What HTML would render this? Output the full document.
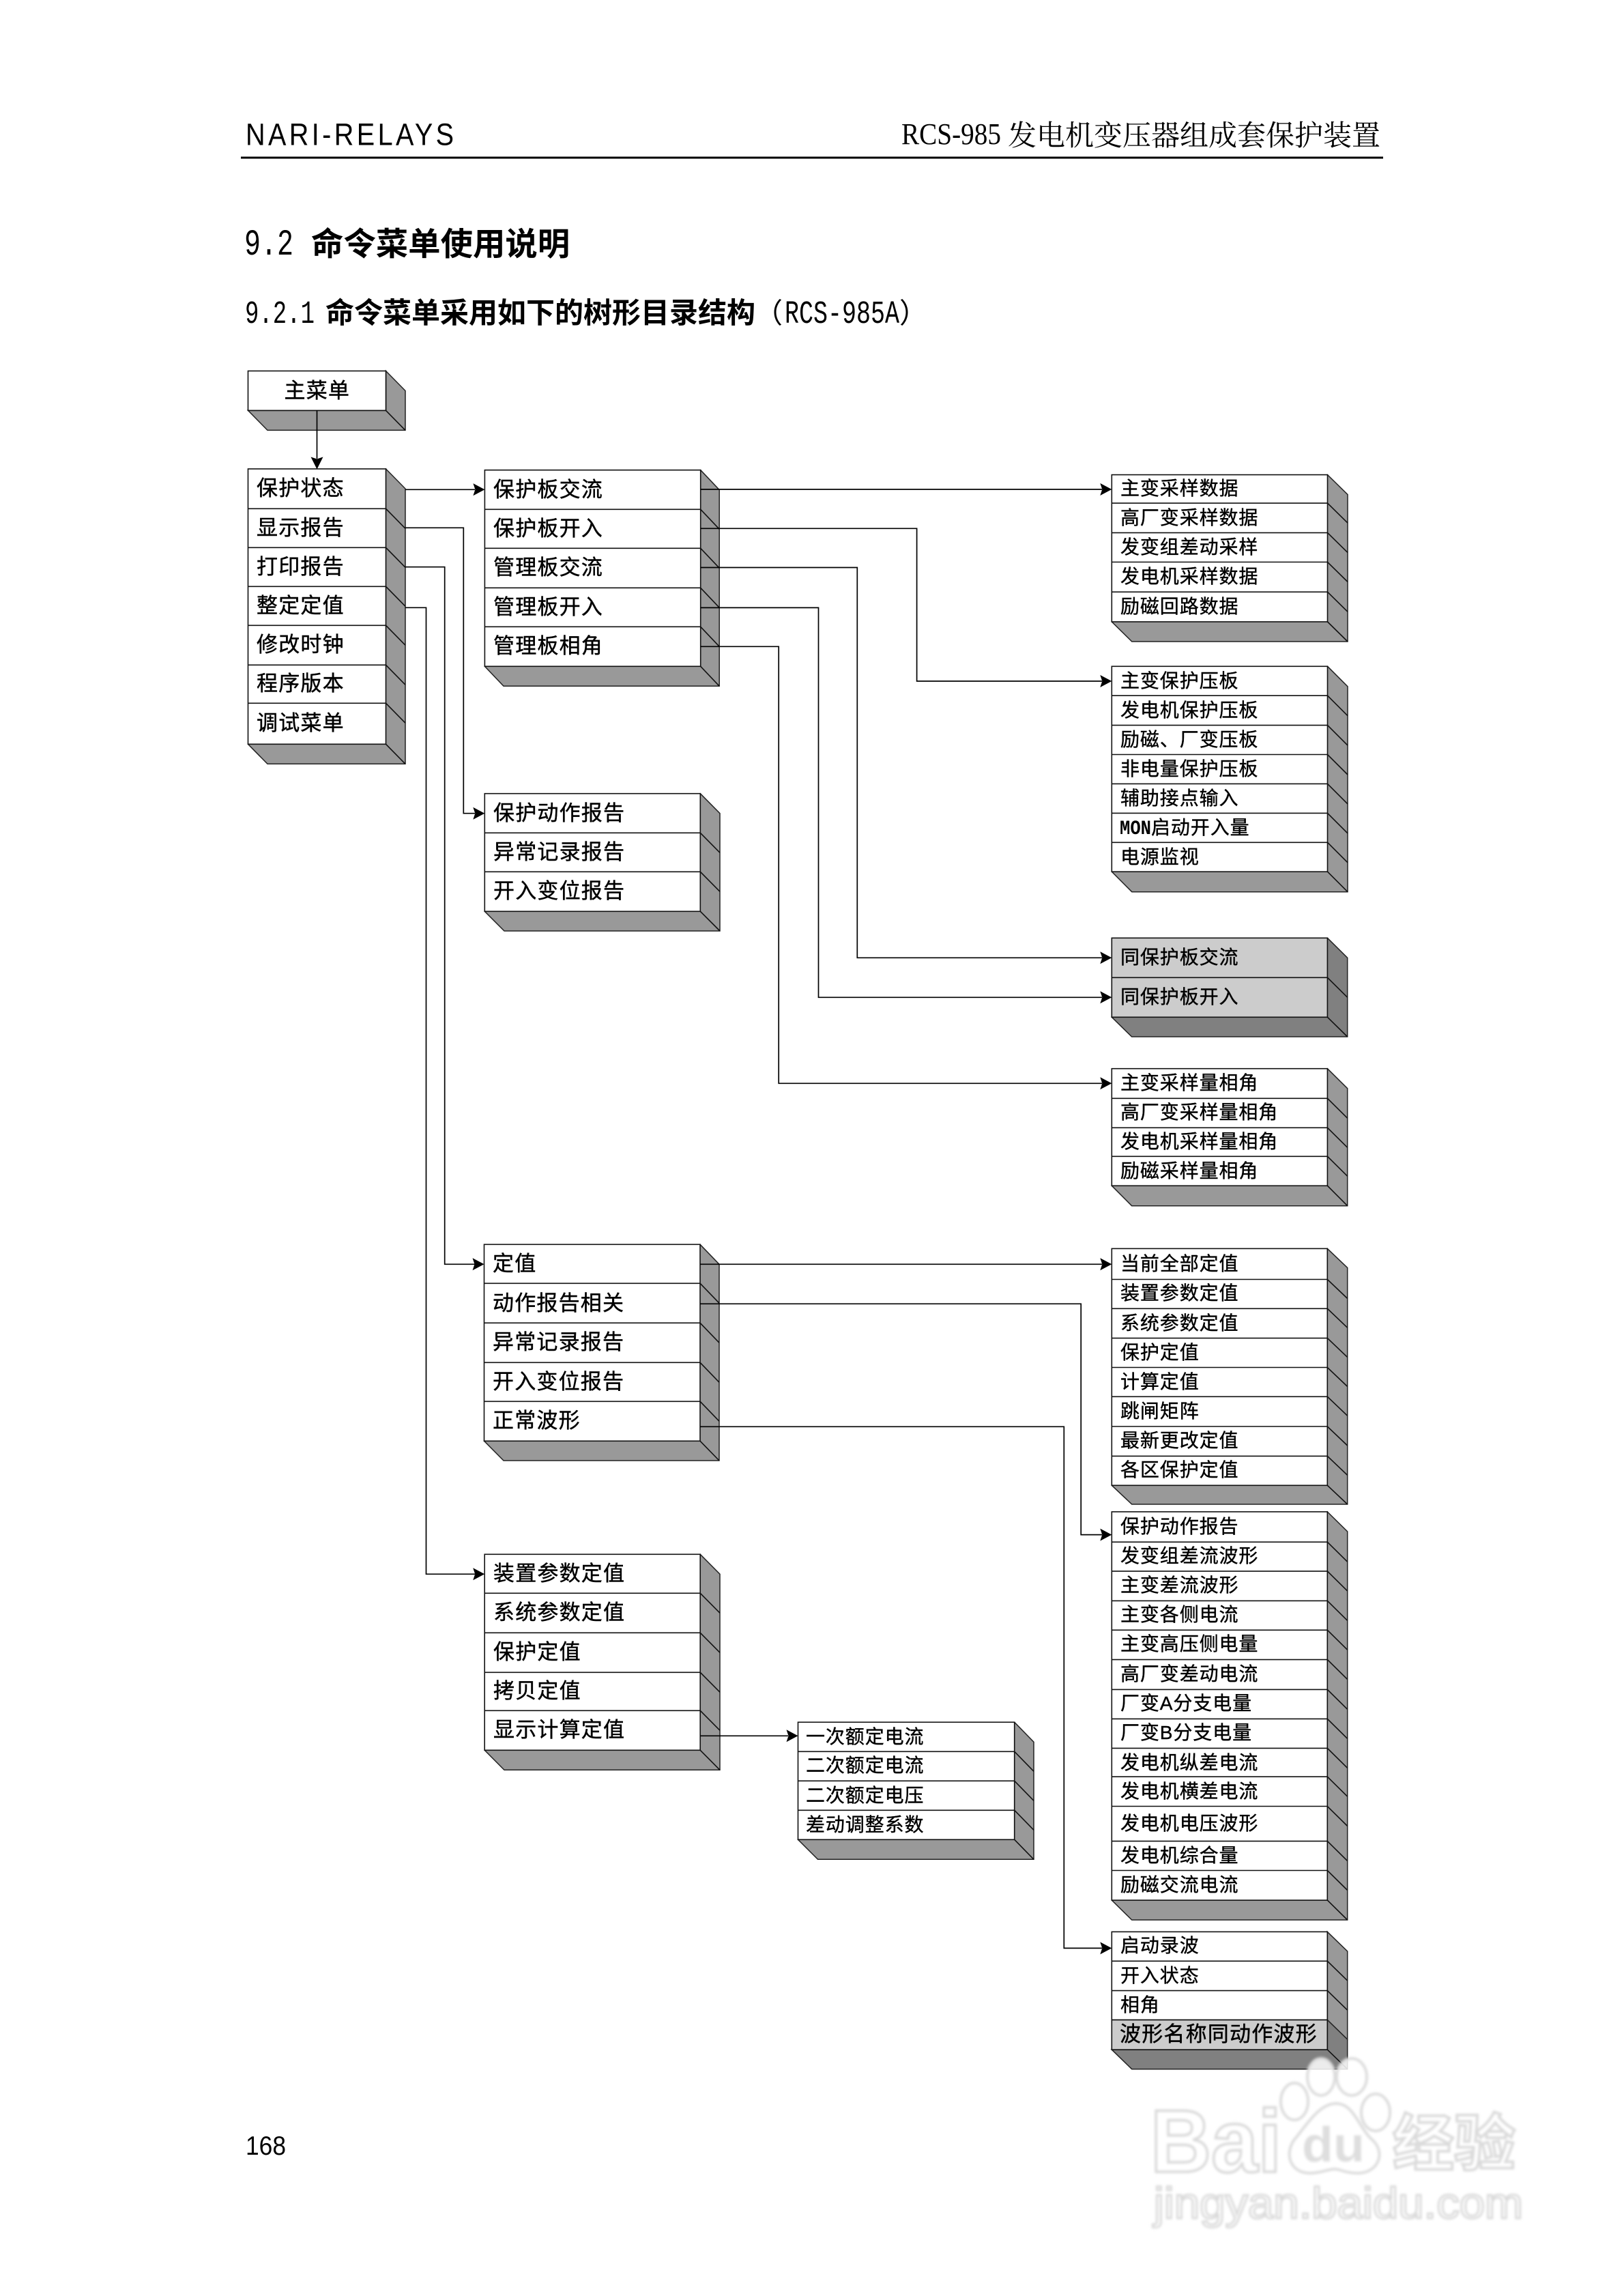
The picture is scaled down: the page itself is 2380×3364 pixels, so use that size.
<!DOCTYPE html>
<html lang="zh"><head><meta charset="utf-8"><title>RCS-985 命令菜单</title>
<style>
html,body{margin:0;padding:0;background:#fff}
svg{display:block}
text{font-family:"Liberation Sans","Noto Sans CJK SC",sans-serif;fill:#000}
.a{font-size:31px;letter-spacing:1.2px;stroke:#000;stroke-width:.45}
.b{font-size:28px;letter-spacing:.9px;stroke:#000;stroke-width:.4}
.s{fill:#999;stroke:#222;stroke-width:1.5}
.d{fill:#808080;stroke:#222;stroke-width:1.5}
.f{fill:#fff;stroke:#111;stroke-width:1.6}
.g{fill:#ccc;stroke:#111;stroke-width:1.6}
.l{fill:none;stroke:#111;stroke-width:1.6}
.c{fill:none;stroke:#000;stroke-width:1.7}
.h{fill:#000}
</style></head><body>
<svg xmlns="http://www.w3.org/2000/svg" width="2380" height="3364" viewBox="0 0 2380 3364">
<defs><filter id="bl" x="-5%" y="-5%" width="110%" height="110%"><feGaussianBlur stdDeviation="1.8"/></filter></defs>
<rect width="2380" height="3364" fill="#fff"/>

<!-- header -->
<text transform="translate(360 212.5) scale(.88 1)" font-size="45" letter-spacing="5">NARI-RELAYS</text>
<text x="1321" y="211" font-size="44" textLength="146" lengthAdjust="spacingAndGlyphs" style="font-family:'Liberation Serif',serif">RCS-985</text>
<text x="1477" y="213" font-size="42" style="font-family:'Noto Serif CJK SC',serif">发电机变压器组成套保护装置</text>
<rect x="353" y="229.5" width="1674" height="3" fill="#000"/>

<!-- headings -->
<text x="358" y="373" font-size="54" textLength="72" lengthAdjust="spacingAndGlyphs" style="font-family:'Liberation Mono',monospace">9.2</text>
<text x="456" y="374" font-size="47.4" font-weight="700">命令菜单使用说明</text>
<text x="359" y="473" font-size="47" textLength="102" lengthAdjust="spacingAndGlyphs" style="font-family:'Liberation Mono',monospace">9.2.1</text>
<text x="477" y="473" font-size="42" font-weight="700">命令菜单采用如下的树形目录结构</text>
<text x="1106" y="473" font-size="41">（</text>
<text x="1150" y="473" font-size="47" textLength="168" lengthAdjust="spacingAndGlyphs" style="font-family:'Liberation Mono',monospace">RCS-985A</text>
<text x="1318" y="473" font-size="41">）</text>

<!-- A 主菜单 -->
<path class="s" d="M565.5 543.5L594 572.5V630.4H392L363.5 601.4H565.5Z"/>
<rect class="f" x="363.5" y="543.5" width="202" height="57.9"/>
<path class="l" d="M565.5 601.4L594 630.4"/>
<text class="a" x="416.5" y="583">主菜单</text>

<!-- B -->
<path class="s" d="M565.5 687L594 716V1119.3H392L363.5 1090.3Z"/>
<rect class="f" x="363.5" y="687" width="202" height="403.3"/>
<path class="l" d="M363.5 745.3H565.5L594 774.3M363.5 802.3H565.5L594 831.3M363.5 859.3H565.5L594 888.3M363.5 916.3H565.5L594 945.3M363.5 974.3H565.5L594 1003.3M363.5 1030.3H565.5L594 1059.3M565.5 1090.3L594 1119.3"/>
<text class="a" x="376" y="726">保护状态</text>
<text class="a" x="376" y="784">显示报告</text>
<text class="a" x="376" y="841">打印报告</text>
<text class="a" x="376" y="898">整定定值</text>
<text class="a" x="376" y="955">修改时钟</text>
<text class="a" x="376" y="1012">程序版本</text>
<text class="a" x="376" y="1070">调试菜单</text>

<!-- C -->
<path class="s" d="M1026.7 688.7L1054.2 717.7V1005.3H738L710.4 976.3Z"/>
<rect class="f" x="710.4" y="688.7" width="316.3" height="287.6"/>
<path class="l" d="M710.4 746.3H1026.7L1054.2 775.3M710.4 803.3H1026.7L1054.2 832.3M710.4 861.3H1026.7L1054.2 890.3M710.4 918.3H1026.7L1054.2 947.3M1026.7 976.3L1054.2 1005.3"/>
<text class="a" x="723" y="728">保护板交流</text>
<text class="a" x="723" y="785">保护板开入</text>
<text class="a" x="723" y="842">管理板交流</text>
<text class="a" x="723" y="900">管理板开入</text>
<text class="a" x="723" y="957">管理板相角</text>

<!-- D -->
<path class="s" d="M1945.5 695.6L1975 724.6V940H1658.8L1629.3 911Z"/>
<rect class="f" x="1629.3" y="695.6" width="316.2" height="215.4"/>
<path class="l" d="M1629.3 737.2H1945.5L1975 766.2M1629.3 780.6H1945.5L1975 809.6M1629.3 823.5H1945.5L1975 852.5M1629.3 867.3H1945.5L1975 896.3M1945.5 911L1975 940"/>
<text class="b" x="1642" y="725">主变采样数据</text>
<text class="b" x="1642" y="768">高厂变采样数据</text>
<text class="b" x="1642" y="811">发变组差动采样</text>
<text class="b" x="1642" y="854">发电机采样数据</text>
<text class="b" x="1642" y="898">励磁回路数据</text>

<!-- E -->
<path class="s" d="M1945.5 976.3L1975 1005.8V1306.7H1658.8L1629.3 1277.2Z"/>
<rect class="f" x="1629.3" y="976.3" width="316.2" height="300.9"/>
<path class="l" d="M1629.3 1019.2H1945.5L1975 1048.7M1629.3 1062.6H1945.5L1975 1092.1M1629.3 1105.5H1945.5L1975 1135M1629.3 1148.4H1945.5L1975 1177.9M1629.3 1191.4H1945.5L1975 1220.9M1629.3 1234.3H1945.5L1975 1263.8M1945.5 1277.2L1975 1306.7"/>
<text class="b" x="1642" y="1007">主变保护压板</text>
<text class="b" x="1642" y="1050">发电机保护压板</text>
<text class="b" x="1642" y="1093">励磁、厂变压板</text>
<text class="b" x="1642" y="1136">非电量保护压板</text>
<text class="b" x="1642" y="1179">辅助接点输入</text>
<text x="1641" y="1222" font-size="30" font-weight="700" textLength="46" lengthAdjust="spacingAndGlyphs" style="font-family:'Liberation Mono',monospace">MON</text>
<text class="b" x="1687" y="1222">启动开入量</text>
<text class="b" x="1642" y="1265">电源监视</text>

<!-- F gray -->
<path class="d" d="M1945.4 1374.3L1974.7 1403.3V1519H1658.6L1629.3 1490.3Z"/>
<rect class="g" x="1629.3" y="1374.3" width="316.1" height="116"/>
<path class="l" d="M1629.3 1432.3H1945.4L1974.7 1461.3M1945.4 1490.3L1974.7 1519"/>
<text class="b" x="1642" y="1412">同保护板交流</text>
<text class="b" x="1642" y="1470">同保护板开入</text>

<!-- G -->
<path class="s" d="M1945.4 1565.7L1974.7 1594.7V1766.7H1658.6L1629.3 1737.3Z"/>
<rect class="f" x="1629.3" y="1565.7" width="316.1" height="171.6"/>
<path class="l" d="M1629.3 1609.3H1945.4L1974.7 1638.3M1629.3 1652.3H1945.4L1974.7 1681.3M1629.3 1694.3H1945.4L1974.7 1723.3M1945.4 1737.3L1974.7 1766.7"/>
<text class="b" x="1642" y="1596">主变采样量相角</text>
<text class="b" x="1642" y="1639">高厂变采样量相角</text>
<text class="b" x="1642" y="1682">发电机采样量相角</text>
<text class="b" x="1642" y="1725">励磁采样量相角</text>

<!-- H -->
<path class="s" d="M1026.3 1162.7L1055 1191.7V1364H739L710.3 1335.3Z"/>
<rect class="f" x="710.3" y="1162.7" width="316" height="172.6"/>
<path class="l" d="M710.3 1220.3H1026.3L1055 1249.3M710.3 1277.3H1026.3L1055 1306.3M1026.3 1335.3L1055 1364"/>
<text class="a" x="723" y="1202">保护动作报告</text>
<text class="a" x="723" y="1259">异常记录报告</text>
<text class="a" x="723" y="1316">开入变位报告</text>

<!-- I -->
<path class="s" d="M1026 1823.3L1054 1852.3V2140H738L709.5 2111.3Z"/>
<rect class="f" x="709.5" y="1823.3" width="316.5" height="288"/>
<path class="l" d="M709.5 1880.3H1026L1054 1909.3M709.5 1938.3H1026L1054 1967.3M709.5 1996.3H1026L1054 2025.3M709.5 2053.3H1026L1054 2082.3M1026 2111.3L1054 2140"/>
<text class="a" x="722" y="1862">定值</text>
<text class="a" x="722" y="1920">动作报告相关</text>
<text class="a" x="722" y="1977">异常记录报告</text>
<text class="a" x="722" y="2035">开入变位报告</text>
<text class="a" x="722" y="2092">正常波形</text>

<!-- J -->
<path class="s" d="M1945.3 1829.4L1974.7 1857.4V2204H1658.7L1629.3 2176.3Z"/>
<rect class="f" x="1629.3" y="1829.4" width="316" height="346.9"/>
<path class="l" d="M1629.3 1874.5H1945.3L1974.7 1902.5M1629.3 1917.3H1945.3L1974.7 1945.3M1629.3 1960.6H1945.3L1974.7 1988.6M1629.3 2003.5H1945.3L1974.7 2031.5M1629.3 2046.3H1945.3L1974.7 2074.3M1629.3 2090H1945.3L1974.7 2118M1629.3 2133.4H1945.3L1974.7 2161.4M1945.3 2176.3L1974.7 2204"/>
<text class="b" x="1642" y="1861">当前全部定值</text>
<text class="b" x="1642" y="1904">装置参数定值</text>
<text class="b" x="1642" y="1948">系统参数定值</text>
<text class="b" x="1642" y="1991">保护定值</text>
<text class="b" x="1642" y="2034">计算定值</text>
<text class="b" x="1642" y="2077">跳闸矩阵</text>
<text class="b" x="1642" y="2120">最新更改定值</text>
<text class="b" x="1642" y="2163">各区保护定值</text>

<!-- K -->
<path class="s" d="M1945.3 2215L1974.7 2244V2813H1658.7L1629.3 2784.1Z"/>
<rect class="f" x="1629.3" y="2215" width="316" height="569.1"/>
<path class="l" d="M1629.3 2259.3H1945.3L1974.7 2288.3M1629.3 2302.1H1945.3L1974.7 2331.1M1629.3 2345.4H1945.3L1974.7 2374.4M1629.3 2388.3H1945.3L1974.7 2417.3M1629.3 2431.6H1945.3L1974.7 2460.6M1629.3 2475.4H1945.3L1974.7 2504.4M1629.3 2518.4H1945.3L1974.7 2547.4M1629.3 2561.4H1945.3L1974.7 2590.4M1629.3 2603.2H1945.3L1974.7 2632.2M1629.3 2646.5H1945.3L1974.7 2675.5M1629.3 2697.6H1945.3L1974.7 2726.6M1629.3 2740.5H1945.3L1974.7 2769.5M1945.3 2784.1L1974.7 2813"/>
<text class="b" x="1642" y="2246">保护动作报告</text>
<text class="b" x="1642" y="2289">发变组差流波形</text>
<text class="b" x="1642" y="2332">主变差流波形</text>
<text class="b" x="1642" y="2375">主变各侧电流</text>
<text class="b" x="1642" y="2418">主变高压侧电量</text>
<text class="b" x="1642" y="2462">高厂变差动电流</text>
<text class="b" x="1642" y="2505">厂变A分支电量</text>
<text class="b" x="1642" y="2548">厂变B分支电量</text>
<text class="b" x="1642" y="2592">发电机纵差电流</text>
<text class="b" x="1642" y="2634">发电机横差电流</text>
<text class="b" x="1642" y="2681">发电机电压波形</text>
<text class="b" x="1642" y="2728">发电机综合量</text>
<text class="b" x="1642" y="2771">励磁交流电流</text>

<!-- L -->
<path class="s" d="M1945.3 2830.4L1974.7 2859V2988.1L1945.3 2959.5Z"/>
<path class="d" d="M1945.3 2959.5L1974.7 2988.1V3031.6H1658.7L1629.3 3003.1H1945.3Z"/>
<rect class="f" x="1629.3" y="2830.4" width="316" height="129.1"/>
<rect class="g" x="1629.3" y="2959.5" width="316" height="43.6"/>
<path class="l" d="M1629.3 2873.3H1945.3L1974.7 2901.9M1629.3 2916.6H1945.3L1974.7 2945.2M1945.3 3003.1L1974.7 3031.6"/>
<text class="b" x="1642" y="2860">启动录波</text>
<text class="b" x="1642" y="2904">开入状态</text>
<text class="b" x="1642" y="2947">相角</text>
<text class="a" x="1641" y="2991">波形名称同动作波形</text>

<!-- M -->
<path class="s" d="M1026.2 2277.3L1055 2306.3V2593.3H739L710.2 2564.3Z"/>
<rect class="f" x="710.2" y="2277.3" width="316" height="287"/>
<path class="l" d="M710.2 2334.3H1026.2L1055 2363.3M710.2 2392.3H1026.2L1055 2421.3M710.2 2450.3H1026.2L1055 2479.3M710.2 2506.3H1026.2L1055 2535.3M1026.2 2564.3L1055 2593.3"/>
<text class="a" x="723" y="2316">装置参数定值</text>
<text class="a" x="723" y="2373">系统参数定值</text>
<text class="a" x="723" y="2431">保护定值</text>
<text class="a" x="723" y="2488">拷贝定值</text>
<text class="a" x="723" y="2545">显示计算定值</text>

<!-- N -->
<path class="s" d="M1486.7 2523.3L1515 2552.3V2724.3H1198.5L1169.5 2695.3Z"/>
<rect class="f" x="1169.5" y="2523.3" width="317.2" height="172"/>
<path class="l" d="M1169.5 2566.3H1486.7L1515 2595.3M1169.5 2609.3H1486.7L1515 2638.3M1169.5 2652.3H1486.7L1515 2681.3M1486.7 2695.3L1515 2724.3"/>
<text class="b" x="1181" y="2554">一次额定电流</text>
<text class="b" x="1181" y="2596">二次额定电流</text>
<text class="b" x="1181" y="2640">二次额定电压</text>
<text class="b" x="1181" y="2683">差动调整系数</text>

<!-- connectors -->
<path class="c" d="M464.5 601.4V672"/>
<path class="h" d="M464.5 687.5L455.5 669.5L464.5 672.5L473.5 669.5Z"/>
<path class="c" d="M594 717.3H696"/>
<path class="c" d="M594 773.3H679.3V1191.7H696"/>
<path class="c" d="M594 830.7H651.7V1852.3H696"/>
<path class="c" d="M594 890.3H624.5V2306.3H696"/>
<path class="c" d="M1026.7 717H1615"/>
<path class="c" d="M1026.7 774.3H1343.6V998H1615"/>
<path class="c" d="M1026.7 831.5H1256.3V1403.3H1615"/>
<path class="c" d="M1026.7 890.4H1199.5V1461.3H1615"/>
<path class="c" d="M1026.7 947.3H1141.2V1587.3H1615"/>
<path class="c" d="M1026 1852.3H1615"/>
<path class="c" d="M1026 1910.3H1584.2V2248.6H1615"/>
<path class="c" d="M1026 2090.3H1559.3V2854.4H1615"/>
<path class="c" d="M1026.2 2543.3H1155"/>
<path class="h" d="M710.4 717.3l-17-9l3 9l-3 9Z"/>
<path class="h" d="M710.3 1191.7l-17-9l3 9l-3 9Z"/>
<path class="h" d="M709.5 1852.3l-17-9l3 9l-3 9Z"/>
<path class="h" d="M710.2 2306.3l-17-9l3 9l-3 9Z"/>
<path class="h" d="M1629.3 717l-17-9l3 9l-3 9Z"/>
<path class="h" d="M1629.3 998l-17-9l3 9l-3 9Z"/>
<path class="h" d="M1629.3 1403.3l-17-9l3 9l-3 9Z"/>
<path class="h" d="M1629.3 1461.3l-17-9l3 9l-3 9Z"/>
<path class="h" d="M1629.3 1587.3l-17-9l3 9l-3 9Z"/>
<path class="h" d="M1629.3 1852.3l-17-9l3 9l-3 9Z"/>
<path class="h" d="M1629.3 2248.6l-17-9l3 9l-3 9Z"/>
<path class="h" d="M1629.3 2854.4l-17-9l3 9l-3 9Z"/>
<path class="h" d="M1169.5 2543.3l-17-9l3 9l-3 9Z"/>

<!-- page number -->
<text x="360" y="3157" font-size="39" textLength="59" lengthAdjust="spacingAndGlyphs">168</text>

<!-- watermark -->
<g filter="url(#bl)">
<g fill="#fff" fill-opacity=".85" stroke="#dcdcdc" stroke-width="4">
<ellipse cx="1936" cy="3043" rx="20" ry="27"/>
<ellipse cx="1981" cy="3043" rx="22" ry="27"/>
<ellipse cx="1897" cy="3079" rx="20" ry="27"/>
<ellipse cx="2016" cy="3095" rx="21" ry="27"/>
</g>
<path d="M1958 3082C1985 3082 1992 3120 2012 3136C2032 3156 2018 3184 1990 3184C1972 3184 1964 3178 1956 3178C1946 3178 1936 3184 1920 3184C1892 3184 1882 3158 1896 3136C1912 3118 1932 3082 1958 3082Z" fill="#fff" stroke="#dcdcdc" stroke-width="4"/>
<g style="font-family:'Liberation Sans',sans-serif" font-weight="700">
<text x="1686" y="3182" font-size="130" style="fill:#fff" stroke="#dadada" stroke-width="4" textLength="192" lengthAdjust="spacingAndGlyphs">Bai</text>
<text x="1908" y="3167" font-size="72" style="fill:#dedede" textLength="92" lengthAdjust="spacingAndGlyphs">du</text>
<text x="1691" y="3250" font-size="64" font-weight="400" style="fill:#fff" stroke="#dadada" stroke-width="3" textLength="541" lengthAdjust="spacingAndGlyphs">jingyan.baidu.com</text>
</g>
<text x="2041" y="3172" font-size="90" font-weight="700" style="fill:#fff" stroke="#dadada" stroke-width="4">经验</text>
</g>
</svg>
</body></html>
